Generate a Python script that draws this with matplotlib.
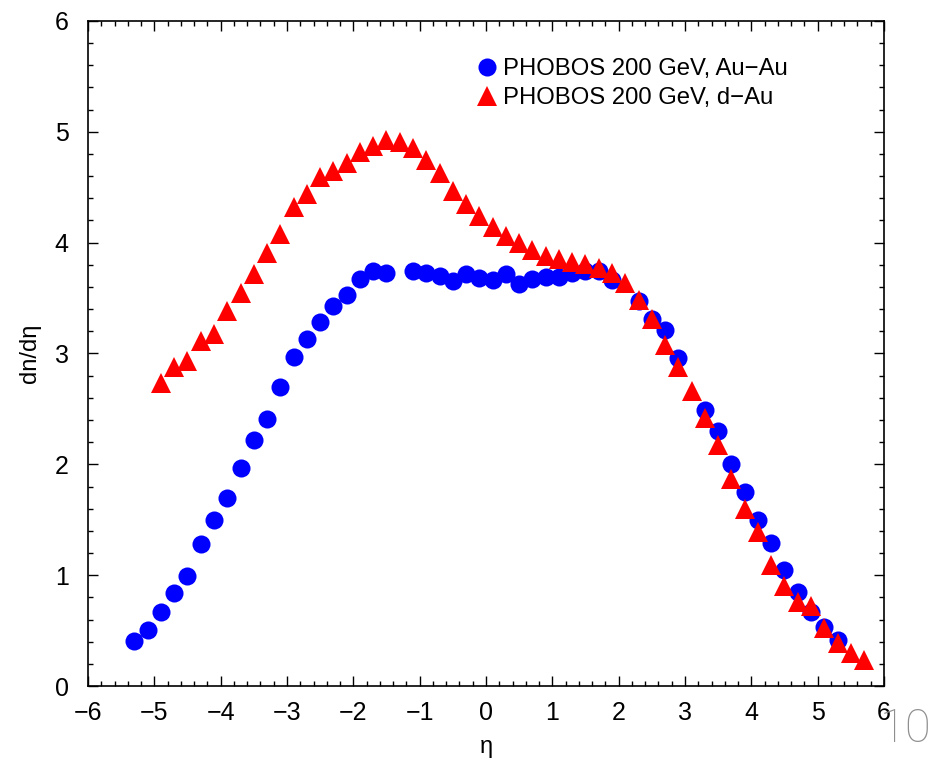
import matplotlib
matplotlib.use("Agg")
import matplotlib.pyplot as plt
from matplotlib.ticker import MultipleLocator

plt.rcParams['font.family'] = ['Liberation Sans', 'DejaVu Sans']

# Au-Au data (blue circles)
auau_eta = [-5.3, -5.1, -4.9, -4.7, -4.5, -4.3, -4.1, -3.9, -3.7, -3.5,
            -3.3, -3.1, -2.9, -2.7, -2.5, -2.3, -2.1, -1.9, -1.7, -1.5,
            -1.1, -0.9, -0.7, -0.5, -0.3, -0.1, 0.1, 0.3, 0.5, 0.7,
            0.9, 1.1, 1.3, 1.5, 1.7, 1.9, 2.3, 2.5, 2.7, 2.9,
            3.3, 3.5, 3.7, 3.9, 4.1, 4.3, 4.5, 4.7, 4.9, 5.1, 5.3]
auau_dn = [0.41, 0.505, 0.665, 0.84, 0.99, 1.28, 1.50, 1.70, 1.97, 2.22,
           2.41, 2.70, 2.97, 3.13, 3.28, 3.43, 3.53, 3.67, 3.74, 3.73,
           3.74, 3.73, 3.70, 3.65, 3.72, 3.68, 3.66, 3.72, 3.63, 3.67,
           3.69, 3.69, 3.73, 3.74, 3.74, 3.66, 3.47, 3.31, 3.21, 2.96,
           2.49, 2.30, 2.00, 1.75, 1.50, 1.29, 1.05, 0.85, 0.67, 0.53, 0.415]

# d-Au data (red triangles)
dau_eta = [-4.9, -4.7, -4.5, -4.3, -4.1, -3.9, -3.7, -3.5, -3.3, -3.1,
           -2.9, -2.7, -2.5, -2.3, -2.1, -1.9, -1.7, -1.5, -1.3, -1.1,
           -0.9, -0.7, -0.5, -0.3, -0.1, 0.1, 0.3, 0.5, 0.7, 0.9,
           1.1, 1.3, 1.5, 1.7, 1.9, 2.1, 2.3, 2.5, 2.7, 2.9,
           3.1, 3.3, 3.5, 3.7, 3.9, 4.1, 4.3, 4.5, 4.7, 4.9,
           5.1, 5.3, 5.5, 5.7]
dau_dn = [2.73, 2.88, 2.93, 3.11, 3.18, 3.38, 3.55, 3.72, 3.91, 4.08,
          4.32, 4.44, 4.59, 4.65, 4.72, 4.82, 4.87, 4.93, 4.91, 4.85,
          4.75, 4.63, 4.47, 4.35, 4.24, 4.14, 4.06, 4.00, 3.93, 3.88,
          3.85, 3.83, 3.81, 3.77, 3.73, 3.64, 3.48, 3.31, 3.08, 2.88,
          2.66, 2.42, 2.17, 1.87, 1.60, 1.39, 1.09, 0.90, 0.76, 0.72,
          0.52, 0.385, 0.30, 0.235]

labels = ["PHOBOS 200 GeV, Au\u2212Au", "PHOBOS 200 GeV, d\u2212Au"]

fig = plt.figure(figsize=(9.43, 7.63), dpi=100)
ax = fig.add_axes([0.0933, 0.1009, 0.8441, 0.8716])

ax.plot(auau_eta, auau_dn, linestyle='none', marker='o', markersize=13,
        color='#0000ff', markeredgewidth=0, label=labels[0])
ax.plot(dau_eta, dau_dn, linestyle='none', marker='^', markersize=14.5,
        color='#ff0000', markeredgewidth=0, label=labels[1])

ax.set_xlim(-6, 6)
ax.set_ylim(0, 6)
ax.xaxis.set_major_locator(MultipleLocator(1))
ax.xaxis.set_minor_locator(MultipleLocator(0.2))
ax.yaxis.set_major_locator(MultipleLocator(1))
ax.yaxis.set_minor_locator(MultipleLocator(0.2))

ax.tick_params(which='both', direction='in', top=True, right=True,
               width=1.0, colors='black')
ax.tick_params(which='major', length=7)
ax.tick_params(which='minor', length=3.5)
ax.tick_params(axis='x', which='major', labelsize=18, pad=11)
ax.tick_params(axis='y', which='major', labelsize=18, pad=14)
for s in ax.spines.values():
    s.set_linewidth(1.2)

ax.set_xlabel("\u03b7", fontsize=17, labelpad=8)
ax.set_ylabel("dn/d\u03b7", fontsize=17, labelpad=10)

leg = ax.legend(loc='upper left', bbox_to_anchor=(0.487, 0.944), frameon=False,
                fontsize=17.2, handlelength=0.95, handletextpad=0.2,
                borderpad=0, borderaxespad=0, labelspacing=0.3, numpoints=1)

fig.text(0.960, 0.027, "10", fontsize=34, color='#8f8f8f', ha='center',
         va='baseline', family=['Roboto', 'DejaVu Sans'], fontweight='light')

fig.savefig("out.png", dpi=100)
